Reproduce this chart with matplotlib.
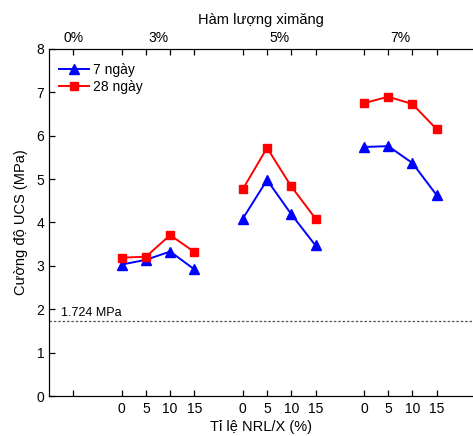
import matplotlib.pyplot as plt
import numpy as np

plt.rcParams['font.family'] = ['Liberation Sans', 'DejaVu Sans']

# vi tri cac nhom tren truc x (moi nhom: 0, 5, 10, 15 % NRL/X)
group_pos = [[2, 3, 4, 5], [7, 8, 9, 10], [12, 13, 14, 15]]
nrl_labels = ['0', '5', '10', '15']
cement_labels = ['0%', '3%', '5%', '7%']
cement_pos = [0, 3.5, 8.5, 13.5]

# cuong do UCS (MPa)
ucs_7 = [[3.03, 3.14, 3.33, 2.92],
         [4.09, 4.98, 4.19, 3.47],
         [5.74, 5.76, 5.37, 4.63]]
ucs_28 = [[3.19, 3.21, 3.71, 3.32],
          [4.77, 5.72, 4.83, 4.09],
          [6.75, 6.90, 6.73, 6.15]]
ucs_limit = 1.724

fig = plt.figure(figsize=(4.73, 4.36), dpi=100)
ax = fig.add_axes([0.1036, 0.0917, 0.8964, 0.796])

for i, pos in enumerate(group_pos):
    ax.plot(pos, ucs_7[i], color='#0000ff', marker='^', markersize=6.5, lw=1.4,
            label='7 ngày' if i == 0 else None)
    ax.plot(pos, ucs_28[i], color='#ff0000', marker='s', markersize=6, lw=1.4,
            label='28 ngày' if i == 0 else None)

ax.axhline(ucs_limit, color='#555555', lw=0.9, ls=(0, (2, 1.5)))
ax.text(-0.5, ucs_limit + 0.06, '%.3f MPa' % ucs_limit, fontsize=9, va='bottom')

ax.set_xlim(-1, 16.5)
ax.set_ylim(0, 8)
ax.set_yticks(range(0, 9))

all_pos = [0] + [p for g in group_pos for p in g]
all_lab = [''] + nrl_labels * 3
ax.set_xticks(all_pos)
ax.set_xticklabels(all_lab)
ax.tick_params(direction='in', length=4, labelsize=10, width=0.9)
ax.tick_params(axis='x', pad=4)
ax.set_xlabel('Tỉ lệ NRL/X (%)', fontsize=10.5, labelpad=3)
ax.set_ylabel('Cường độ UCS (MPa)', fontsize=10.5, labelpad=6)
ax.spines['right'].set_visible(False)

# truc tren: ham luong xi mang
top = ax.twiny()
top.set_xlim(ax.get_xlim())
top.xaxis.remove_overlapping_locs = False
top.set_xticks(all_pos)
top.set_xticklabels([])
top.set_xticks(cement_pos, minor=True)
top.set_xticklabels(cement_labels, minor=True)
top.tick_params(which='major', direction='in', length=4, width=0.9)
top.tick_params(which='minor', length=0, labelsize=10, pad=3)
top.set_xlabel('Hàm lượng ximăng', fontsize=10.5, labelpad=5)
top.spines['right'].set_visible(False)

ax.legend(loc='upper left', frameon=False, fontsize=10, handlelength=2.2,
          handletextpad=0.3, borderaxespad=0.3, labelspacing=0.2,
          bbox_to_anchor=(0.0, 0.988))

fig.savefig('out.png', dpi=100)
